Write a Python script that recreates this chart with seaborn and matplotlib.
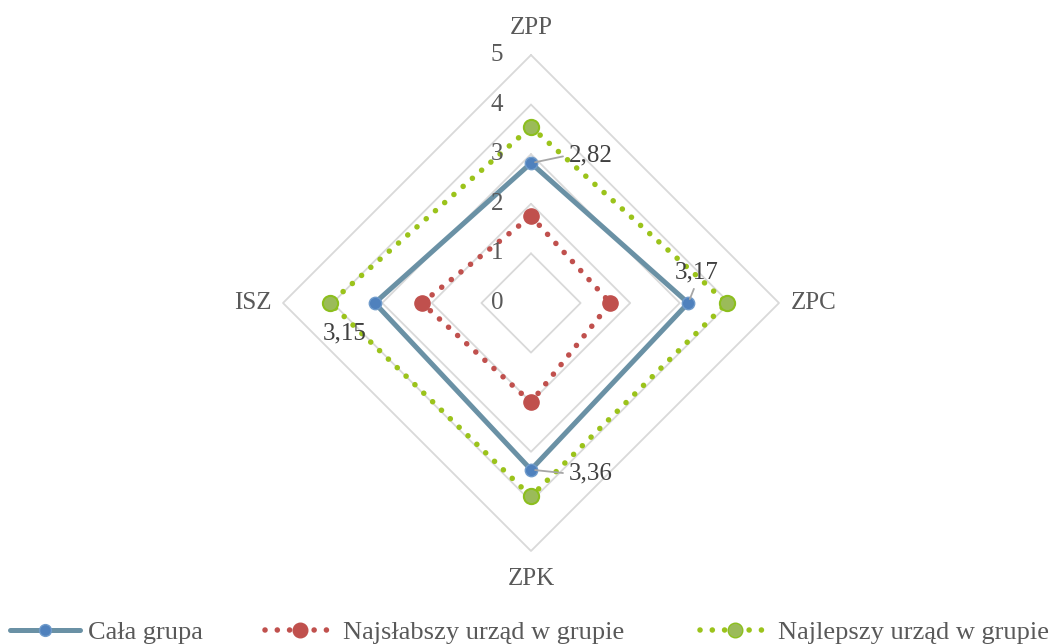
import numpy as np
import pandas as pd
import matplotlib
matplotlib.use("Agg")
import matplotlib.pyplot as plt
from matplotlib.lines import Line2D
import seaborn as sns

# --- data -------------------------------------------------------------
categories = ["ZPP", "ZPC", "ZPK", "ISZ"]
cala_grupa = [2.82, 3.17, 3.36, 3.15]
najslabszy = [1.75, 1.60, 2.00, 2.20]
najlepszy = [3.55, 3.95, 3.90, 4.05]
series_names = ["Cała grupa", "Najsłabszy urząd w grupie", "Najlepszy urząd w grupie"]
radial_ticks = [0, 1, 2, 3, 4, 5]

# --- style ------------------------------------------------------------
sns.set_theme(style="white")
plt.rcParams["font.family"] = ["Liberation Serif", "DejaVu Serif"]

TEXT = "#595959"
GRID = "#D9D9D9"
BLUE_LINE = "#6A91A5"
BLUE_MK = "#4F81BD"
RED = "#C0504D"
GREEN_DOT = "#9BC31B"
GREEN_MK = "#9BBB59"

W, H = 1064, 644
CX, CY = 531, 303        # centre of the radar in pixels
UNIT = 49.6              # pixels per value unit

fig = plt.figure(figsize=(W / 100, H / 100), dpi=100)
ax = fig.add_axes([0, 0, 1, 1])
ax.set_xlim(-CX / UNIT, (W - CX) / UNIT)
ax.set_ylim(-(H - CY) / UNIT, CY / UNIT)
ax.axis("off")

n = len(categories)
theta = np.arange(n) * 2 * np.pi / n   # clockwise from the top


def to_xy(values):
    v = np.asarray(values, dtype=float)
    return v * np.sin(theta), v * np.cos(theta)


def closed(values):
    x, y = to_xy(values)
    return pd.DataFrame({"x": np.append(x, x[0]), "y": np.append(y, y[0])})


# polygon grid
for r in radial_ticks[1:]:
    g = closed([r] * n)
    ax.plot(g["x"], g["y"], color=GRID, lw=1.3, zorder=1)

dotted = (0, (0.01, 2.2))

# series lines
sns.lineplot(data=closed(cala_grupa), x="x", y="y", sort=False, estimator=None,
             ax=ax, color=BLUE_LINE, lw=3.6, zorder=3,
             solid_joinstyle="miter")
sns.lineplot(data=closed(najslabszy), x="x", y="y", sort=False, estimator=None,
             ax=ax, color=RED, lw=4.0, linestyle=dotted,
             dash_capstyle="round", zorder=3)
sns.lineplot(data=closed(najlepszy), x="x", y="y", sort=False, estimator=None,
             ax=ax, color=GREEN_DOT, lw=4.0, linestyle=dotted,
             dash_capstyle="round", zorder=3)

# series markers
bx, by = to_xy(cala_grupa)
rx, ry = to_xy(najslabszy)
gx, gy = to_xy(najlepszy)
sns.scatterplot(x=bx, y=by, ax=ax, s=80, color=BLUE_MK, edgecolor="#6F9BCB",
                linewidth=1.0, zorder=5)
sns.scatterplot(x=rx, y=ry, ax=ax, s=120, color=RED, edgecolor=RED,
                linewidth=1.0, zorder=5)
sns.scatterplot(x=gx, y=gy, ax=ax, s=120, color=GREEN_MK, edgecolor="#8CBF1E",
                linewidth=1.5, zorder=5)

# radial tick labels along the upward axis
for r in radial_ticks:
    ax.annotate(str(r), (0, r), xytext=(-28, 0), textcoords="offset pixels",
                ha="right", va="center", fontsize=18, color=TEXT, zorder=6)

# category labels just outside the outer ring
outer_x, outer_y = to_xy([radial_ticks[-1]] * n)
cat_offsets = [(0, 27), (12, 0), (0, -28), (-11, 0)]
cat_align = [("center", "center"), ("left", "center"),
             ("center", "center"), ("right", "center")]
for i, lab in enumerate(categories):
    ax.annotate(lab, (outer_x[i], outer_y[i]), xytext=cat_offsets[i],
                textcoords="offset pixels", ha=cat_align[i][0],
                va=cat_align[i][1], fontsize=18, color=TEXT)

# value labels for the whole group, with leader lines
lab_offsets = [(38, 8), (8, 31), (38, -4), (-30, -30)]
lab_align = [("left", "center"), ("center", "center"),
             ("left", "center"), ("center", "center")]
relpos = [(0, 0.5), (0.5, 0), (0, 0.5), None]
for i, v in enumerate(cala_grupa):
    txt = f"{v:.2f}".replace(".", ",")
    kw = {}
    if relpos[i] is not None:
        kw["arrowprops"] = dict(arrowstyle="-", color="#A6A6A6", lw=1.3,
                                shrinkA=2, shrinkB=3, relpos=relpos[i])
    ax.annotate(txt, (bx[i], by[i]), xytext=lab_offsets[i],
                textcoords="offset pixels", ha=lab_align[i][0],
                va=lab_align[i][1], fontsize=18, color="#404040",
                zorder=7, **kw)

# legend, one entry per slot along the bottom
handles = [
    Line2D([], [], color=BLUE_LINE, lw=3.6, marker="o", markersize=8.5,
           markerfacecolor=BLUE_MK, markeredgecolor="#6F9BCB"),
    Line2D([], [], color=RED, lw=4.0, linestyle=dotted, dash_capstyle="round",
           marker="o", markersize=10.5, markerfacecolor=RED,
           markeredgecolor=RED),
    Line2D([], [], color=GREEN_DOT, lw=4.0, linestyle=dotted,
           dash_capstyle="round", marker="o", markersize=10.5,
           markerfacecolor=GREEN_MK, markeredgecolor="#8CBF1E"),
]
legend_x = [10, 265, 700]
for h, name, x0 in zip(handles, series_names, legend_x):
    leg = fig.legend([h], [name], loc="center left",
                     bbox_to_anchor=(x0 / W, 12 / H), frameon=False,
                     fontsize=19, handlelength=2.65, handletextpad=0.3,
                     borderpad=0, borderaxespad=0, numpoints=1)
    for t in leg.get_texts():
        t.set_color(TEXT)

fig.savefig("out.png", dpi=100)
